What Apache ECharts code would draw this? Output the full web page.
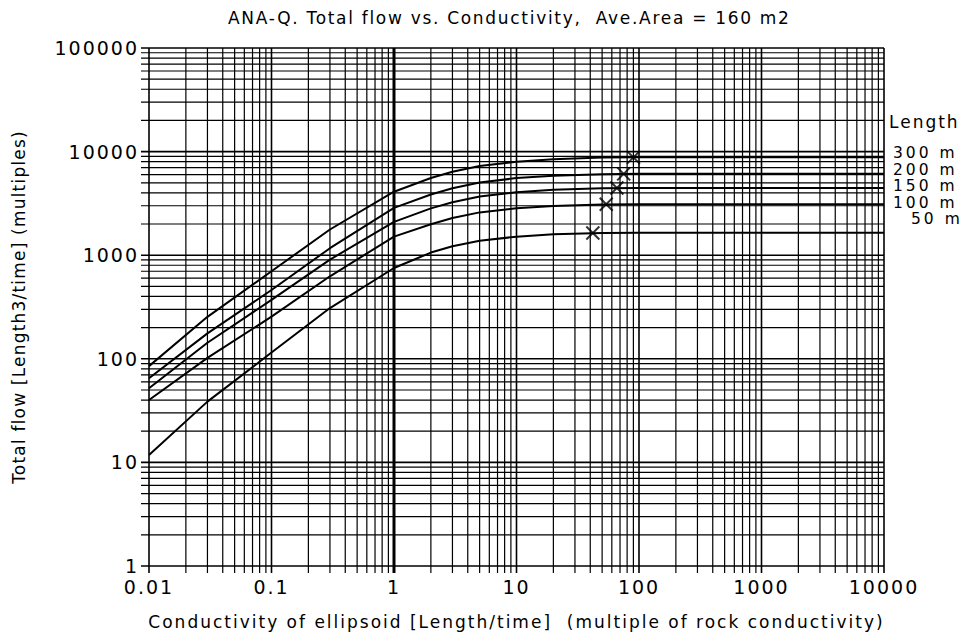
<!DOCTYPE html>
<html><head><meta charset="utf-8">
<script src="https://cdn.jsdelivr.net/npm/echarts@6/dist/echarts.min.js"></script>
<style>html,body{margin:0;padding:0;background:#fff}#c{width:972px;height:642px}
#c svg text{letter-spacing:2px}</style>
</head><body><div id="c"></div>
<script>
const titleText = 'ANA-Q. Total flow vs. Conductivity,  Ave.Area = 160 m2';
const xName = 'Conductivity of ellipsoid [Length/time]  (multiple of rock conductivity)';
const yName = 'Total flow [Length3/time] (multiples)';
const xTickLabels = ['0.01','0.1','1','10','100','1000','10000'];
const yTickLabels = ['1','10','100','1000','10000','100000'];
const lengthNames = ['300 m','200 m','150 m','100 m','50 m'];
const conductivity = [0.01, 0.03, 0.1, 0.3, 1, 2, 3, 5, 10, 20, 50, 100, 10000];
const flow300 = [85, 254, 700, 1770, 4100, 5560, 6400, 7260, 8000, 8450, 8750, 8800, 8800];
const flow200 = [65, 176, 461, 1168, 2860, 3850, 4430, 5030, 5550, 5850, 6050, 6100, 6100];
const flow150 = [52, 143, 370, 906, 2100, 2830, 3250, 3690, 4060, 4290, 4420, 4450, 4450];
const flow100 = [40, 102, 255, 626, 1510, 1990, 2290, 2590, 2840, 2990, 3080, 3100, 3100];
const flow50  = [11.8, 38.6, 115, 309, 752, 1060, 1220, 1380, 1510, 1590, 1640, 1650, 1650];
const markerK = [90, 75, 66, 54, 42];
const markerQ = [8800, 6100, 4450, 3100, 1640];

const flows = [flow300, flow200, flow150, flow100, flow50];
const xDecades = [0.01, 0.1, 1, 10, 100, 1000];
const yDecades = [1, 10, 100, 1000, 10000];
const gridX = [], gridY = [];
xDecades.forEach(d => { for (let m = 1; m <= 9; m++) gridX.push([d * m, 1, m === 1 ? 1 : 0]); });
gridX.push([10000, 1, 1]);
yDecades.forEach(d => { for (let m = 1; m <= 9; m++) gridY.push([0.01, d * m, m === 1 ? 1 : 0]); });
gridY.push([0.01, 100000, 1]);

const chart = echarts.init(document.getElementById('c'), null, { renderer: 'svg' });
const font = 'DejaVu Sans';
const series = [];
series.push({
  type: 'custom', silent: true, z: 1, data: gridX,
  renderItem: (p, api) => {
    const v = api.value(0);
    const b = api.coord([v, 1]);
    const t = api.coord([v, 100000]);
    const isOne = Math.abs(v - 1) < 1e-9;
    return { type: 'line', shape: { x1: b[0], y1: b[1] + 7, x2: t[0], y2: t[1] },
      style: { stroke: '#000', lineWidth: isOne ? 3 : (api.value(2) ? 1.6 : 1.2) } };
  }
});
series.push({
  type: 'custom', silent: true, z: 1, data: gridY,
  renderItem: (p, api) => {
    const v = api.value(1);
    const l = api.coord([0.01, v]);
    const r = api.coord([10000, v]);
    return { type: 'line', shape: { x1: l[0] - 8, y1: l[1], x2: r[0], y2: r[1] },
      style: { stroke: '#000', lineWidth: api.value(2) ? 1.6 : 1.2 } };
  }
});
flows.forEach((f, i) => {
  series.push({
    type: 'line', name: lengthNames[i], z: 5, symbol: 'none', smooth: false,
    lineStyle: { color: '#000', width: 2 },
    data: conductivity.map((k, j) => [k, f[j]])
  });
});
series.push({
  type: 'scatter', z: 6, symbol: 'path://M0,0L10,10M10,0L0,10', symbolSize: 13,
  itemStyle: { color: 'none', borderColor: '#000', borderWidth: 2 },
  data: markerK.map((k, i) => [k, markerQ[i]])
});

const rightLabels = [{ text: 'Length', top: 113, left: 889, size: 17 }];
lengthNames.forEach((n, i) => rightLabels.push({ text: n, top: 145 + i * 16.5, left: n.length > 4 ? 893 : 911, size: 15.5 }));

chart.setOption({
  animation: false,
  backgroundColor: '#fff',
  title: { text: titleText, left: 223, top: 4,
    textStyle: { fontFamily: font, fontSize: 17, fontWeight: 'normal', color: '#000' } },
  grid: { left: 149, right: 88, top: 48, bottom: 76 },
  xAxis: {
    type: 'log', logBase: 10, min: 0.01, max: 10000,
    name: xName, nameLocation: 'middle', nameGap: 47,
    nameTextStyle: { fontFamily: font, fontSize: 17, color: '#000' },
    axisLine: { show: false }, axisTick: { show: false }, splitLine: { show: false },
    axisLabel: { fontFamily: font, fontSize: 19, color: '#000', margin: 11,
      formatter: v => xTickLabels[Math.round(Math.log10(v)) + 2] }
  },
  yAxis: {
    type: 'log', logBase: 10, min: 1, max: 100000,
    name: yName, nameLocation: 'middle', nameGap: 122, nameRotate: 90,
    nameTextStyle: { fontFamily: font, fontSize: 17, color: '#000' },
    axisLine: { show: false }, axisTick: { show: false }, splitLine: { show: false },
    axisLabel: { fontFamily: font, fontSize: 19, color: '#000', margin: 10,
      formatter: v => yTickLabels[Math.round(Math.log10(v))] }
  },
  graphic: rightLabels.map(l => ({ type: 'text', left: l.left, top: l.top,
    style: { text: l.text, fontFamily: font, fontSize: l.size, lineHeight: 16, fill: '#000' } })),
  series
});
document.querySelectorAll('#c svg text').forEach(t => {
  if (t.textContent === yName) t.style.letterSpacing = '1.2px';
  if (t.textContent === titleText) t.style.letterSpacing = '1.7px';
  if (lengthNames.indexOf(t.textContent) >= 0) t.style.letterSpacing = '3px';
});
</script></body></html>
